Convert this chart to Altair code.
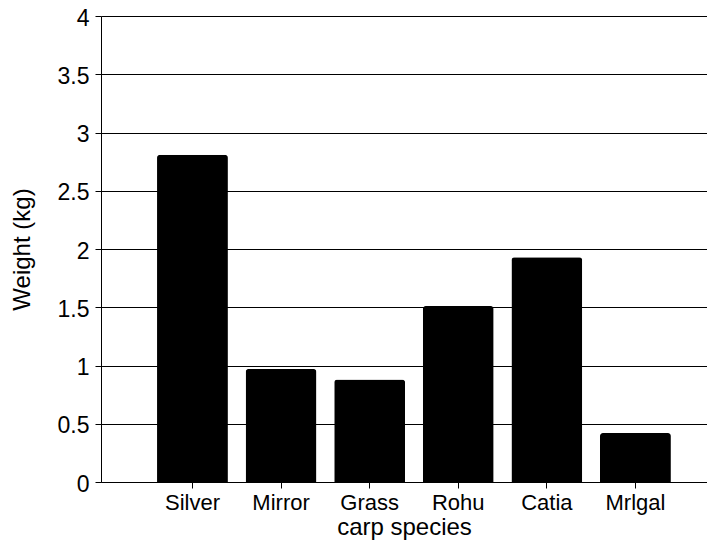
import altair as alt
import pandas as pd

species = ["Silver", "Mirror", "Grass", "Rohu", "Catia", "Mrlgal"]
weights = [2.81, 0.97, 0.88, 1.51, 1.93, 0.42]
y_ticks = [0, 0.5, 1, 1.5, 2, 2.5, 3, 3.5, 4]

df = pd.DataFrame({"species": species, "weight": weights})

FONT = "Liberation Sans"

chart = alt.Chart(df).mark_bar(
    color="black",
    cornerRadiusTopLeft=3,
    cornerRadiusTopRight=3,
).encode(
    x=alt.X(
        "species:N",
        sort=species,
        title="carp species",
        scale=alt.Scale(paddingInner=0.2, paddingOuter=0.52, align=0.608),
        axis=alt.Axis(
            labelAngle=0,
            labelFontSize=22,
            labelPadding=4,
            titleFontSize=24,
            titleFontWeight="normal",
            titlePadding=2,
            tickSize=6,
            tickColor="black",
            domainColor="black",
            labelColor="black",
            titleColor="black",
            grid=False,
        ),
    ),
    y=alt.Y(
        "weight:Q",
        title="Weight (kg)",
        scale=alt.Scale(domain=[0, 4], nice=False),
        axis=alt.Axis(
            values=y_ticks,
            labelExpr="datum.value",
            labelFontSize=23,
            labelPadding=6,
            labelOffset=2,
            titleFontSize=24,
            titleFontWeight="normal",
            titlePadding=23,
            tickSize=6,
            tickColor="black",
            domainColor="black",
            labelColor="black",
            titleColor="black",
            grid=True,
            gridColor="black",
            gridOpacity=1,
            gridWidth=1,
        ),
    ),
).properties(
    width=606,
    height=466,
    autosize=alt.AutoSizeParams(type="none"),
    padding={"left": 93, "top": 8, "right": 0, "bottom": 59},
).configure(
    font=FONT,
).configure_view(
    stroke=None,
)

chart.save("out.html", embed_options={"renderer": "svg", "actions": False})
